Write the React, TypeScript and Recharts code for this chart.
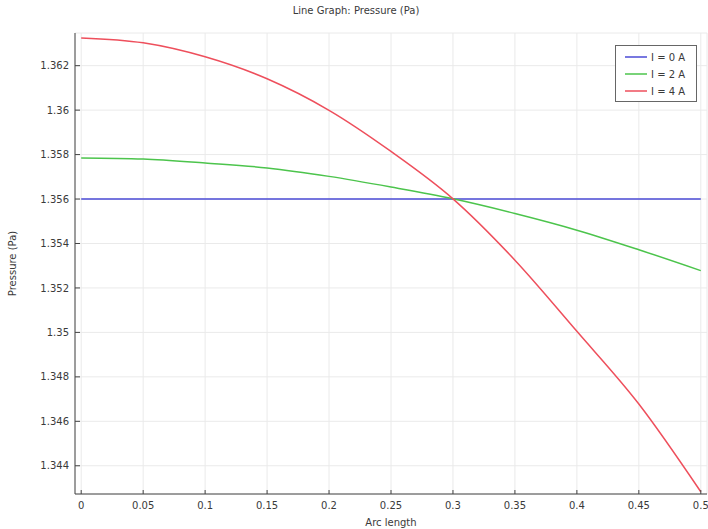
import React from "react";
import { LineChart, Line, XAxis, YAxis, CartesianGrid } from "recharts";

const arcLength = [0, 0.05, 0.1, 0.15, 0.2, 0.25, 0.3, 0.35, 0.4, 0.45, 0.5];
const pressureI0 = [1.356, 1.356, 1.356, 1.356, 1.356, 1.356, 1.356, 1.356, 1.356, 1.356, 1.356];
const pressureI2 = [1.35785, 1.3578, 1.35762, 1.3574, 1.35702, 1.35654, 1.35601, 1.35535, 1.3546, 1.35372, 1.35278];
const pressureI4 = [1.36325, 1.36303, 1.3624, 1.36141, 1.35999, 1.35814, 1.35601, 1.35325, 1.35005, 1.34678, 1.34283];

const xTicks = [0, 0.05, 0.1, 0.15, 0.2, 0.25, 0.3, 0.35, 0.4, 0.45, 0.5];
const yTicks = [1.344, 1.346, 1.348, 1.35, 1.352, 1.354, 1.356, 1.358, 1.36, 1.362];

const seriesNames = ["I = 0 A", "I = 2 A", "I = 4 A"];
const seriesColors = ["#4b4bd6", "#4cc44c", "#ee4f5c"];
const seriesKeys = ["i0", "i2", "i4"];

const data = arcLength.map((x, i) => ({
  x,
  i0: pressureI0[i],
  i2: pressureI2[i],
  i4: pressureI4[i],
}));

const fmt = (v: number) => String(parseFloat(Number(v).toFixed(3)));

const FONT = "'DejaVu Sans', sans-serif";
const TEXT = "#3a3a3a";

const LegendBox = () => (
  <div
    style={{
      position: "absolute",
      left: 615,
      top: 45,
      width: 82,
      height: 57,
      border: "1px solid #666",
      background: "#fff",
      boxSizing: "border-box",
      fontFamily: FONT,
      fontSize: 10,
      color: TEXT,
    }}
  >
    {seriesNames.map((n, i) => (
      <div key={n} style={{ position: "absolute", left: 9, top: 4 + i * 17, height: 14, display: "flex", alignItems: "center", whiteSpace: "nowrap" }}>
        <svg width={22} height={4} style={{ marginRight: 4 }}>
          <line x1={0} y1={2} x2={22} y2={2} stroke={seriesColors[i]} strokeWidth={1.5} />
        </svg>
        <span>{n}</span>
      </div>
    ))}
  </div>
);

export default function App() {
  return (
    <div style={{ position: "absolute", left: 0, top: 0, width: 708, height: 529, background: "#fff" }}>
      <div
        style={{
          position: "absolute",
          left: 0,
          width: 708,
          top: 5,
          textAlign: "center",
          fontFamily: FONT,
          fontSize: 10,
          color: TEXT,
          paddingLeft: 2,
        }}
      >
        Line Graph: Pressure (Pa)
      </div>
      <LineChart
        width={708}
        height={529}
        data={data}
        margin={{ top: 33, right: 1, bottom: 0, left: 0 }}
        style={{ fontFamily: FONT }}
      >
        <CartesianGrid xAxisId="b" yAxisId="l" stroke="#eaeaea" strokeWidth={1} />
        <XAxis
          xAxisId="b"
          dataKey="x"
          type="number"
          domain={[-0.005, 0.505]}
          ticks={xTicks}
          tickFormatter={fmt}
          allowDataOverflow
          height={35}
          stroke="#444"
          tickSize={-4}
          tickMargin={12}
          tick={{ fill: TEXT, fontSize: 10 }}
          label={{ value: "Arc length", position: "insideBottom", offset: 3, fill: TEXT, fontSize: 10 }}
        />
        <XAxis
          xAxisId="t"
          orientation="top"
          dataKey="x"
          type="number"
          domain={[-0.005, 0.505]}
          ticks={xTicks}
          allowDataOverflow
          height={0}
          stroke="#444"
          tickSize={-4}
          tick={() => <g />}
        />
        <YAxis
          yAxisId="l"
          type="number"
          domain={[1.34273, 1.36347]}
          ticks={yTicks}
          tickFormatter={fmt}
          allowDataOverflow
          width={75}
          stroke="#444"
          tickSize={-5}
          tickMargin={11}
          tick={{ fill: TEXT, fontSize: 10 }}
          label={{ value: "Pressure (Pa)", angle: -90, position: "insideLeft", offset: 12, fill: TEXT, fontSize: 10, style: { textAnchor: "middle" } }}
        />
        <YAxis
          yAxisId="r"
          orientation="right"
          type="number"
          domain={[1.34273, 1.36347]}
          ticks={yTicks}
          allowDataOverflow
          width={0}
          stroke="#444"
          tickSize={-5}
          tick={() => <g />}
        />
        {seriesKeys.map((k, i) => (
          <Line
            key={k}
            xAxisId="b"
            yAxisId="l"
            dataKey={k}
            name={seriesNames[i]}
            type="monotone"
            stroke={seriesColors[i]}
            strokeWidth={1.5}
            dot={false}
            activeDot={false}
            isAnimationActive={false}
          />
        ))}
      </LineChart>
      <LegendBox />
    </div>
  );
}
